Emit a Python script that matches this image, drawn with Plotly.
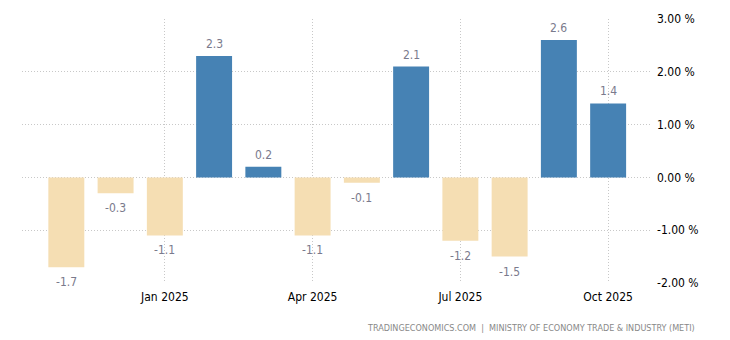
import plotly.graph_objects as go

months = ["Nov 2024", "Dec 2024", "Jan 2025", "Feb 2025", "Mar 2025", "Apr 2025",
          "May 2025", "Jun 2025", "Jul 2025", "Aug 2025", "Sep 2025", "Oct 2025"]
values = [-1.7, -0.3, -1.1, 2.3, 0.2, -1.1, -0.1, 2.1, -1.2, -1.5, 2.6, 1.4]
tick_months = ["Jan 2025", "Apr 2025", "Jul 2025", "Oct 2025"]
y_ticks = [-2, -1, 0, 1, 2, 3]

pos_color = "#4682B4"
neg_color = "#F5DEB3"
FONT = "DejaVu Sans Condensed"

x_idx = list(range(len(months)))
colors = [pos_color if v >= 0 else neg_color for v in values]

fig = go.Figure()
fig.add_trace(go.Bar(
    x=x_idx, y=values, marker=dict(color=colors, line=dict(width=0)),
    width=0.73, hoverinfo="skip",
))

annotations = []
for xi, v in zip(x_idx, values):
    annotations.append(dict(
        x=xi, y=v, xref="x", yref="y", text=f"{v:.1f}", showarrow=False,
        yanchor="middle", yshift=12 if v >= 0 else -15,
        font=dict(color="#7a7a8c", size=12, family=FONT),
    ))
annotations.append(dict(
    text="TRADINGECONOMICS.COM  |  MINISTRY OF ECONOMY TRADE & INDUSTRY (METI)",
    xref="paper", yref="paper", x=(697 - 22) / (730 - 22 - 80), xanchor="right",
    y=-0.17, yanchor="middle", showarrow=False,
    font=dict(size=9, color="#888888", family=FONT),
))

fig.update_layout(
    width=730, height=340,
    margin=dict(l=22, r=80, t=19, b=57),
    plot_bgcolor="white", paper_bgcolor="white",
    showlegend=False,
    font=dict(family=FONT, size=12, color="#000"),
    xaxis=dict(
        range=[-0.9, 11.85],
        tickvals=[months.index(m) for m in tick_months],
        ticktext=tick_months,
        showgrid=True, gridcolor="#c8c8c8", griddash="1px,2px", gridwidth=1,
        zeroline=False, showline=False, ticks="", ticklabelstandoff=5,
        tickfont=dict(size=12, color="#000", family=FONT),
    ),
    yaxis=dict(
        side="right", range=[-2, 3],
        tickvals=y_ticks, ticktext=[f"{t:.2f} %" for t in y_ticks],
        showgrid=True, gridcolor="#c8c8c8", griddash="1px,2px", gridwidth=1,
        zeroline=False, showline=False, ticks="",
        tickfont=dict(size=12, color="#000", family=FONT),
        ticklabelstandoff=6,
    ),
    annotations=annotations,
)

fig.write_html("out.html")
